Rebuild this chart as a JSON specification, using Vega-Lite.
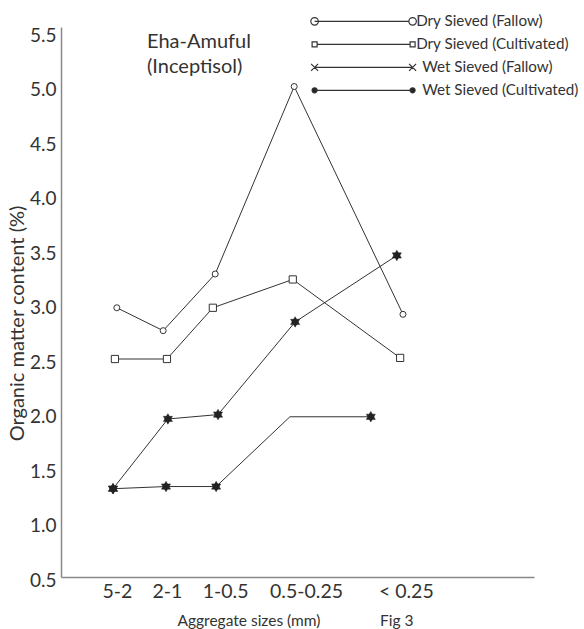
{
  "$schema": "https://vega.github.io/schema/vega-lite/v6.json",
  "width": 473,
  "height": 550,
  "autosize": {"type": "none"},
  "padding": {"left": 61, "top": 27, "right": 50, "bottom": 52},
  "background": "white",
  "config": {"view": {"stroke": null}, "font": "Lato"},
  "title": {
    "text": ["Eha-Amuful", "(Inceptisol)"],
    "orient": "top",
    "anchor": "start",
    "frame": "group",
    "dx": 86,
    "dy": 63,
    "offset": 0,
    "baseline": "top",
    "font": "Lato",
    "fontSize": 20,
    "fontWeight": "normal",
    "color": "#333",
    "lineHeight": 25
  },
  "data": {
    "values": [
      {"series": "Dry Sieved (Fallow)", "aggregate": "5-2", "x_pos": 1.18, "om": 2.97, "measured": true},
      {"series": "Dry Sieved (Fallow)", "aggregate": "2-1", "x_pos": 2.16, "om": 2.76, "measured": true},
      {"series": "Dry Sieved (Fallow)", "aggregate": "1-0.5", "x_pos": 3.26, "om": 3.28, "measured": true},
      {"series": "Dry Sieved (Fallow)", "aggregate": "0.5-0.25", "x_pos": 4.93, "om": 5.0, "measured": true},
      {"series": "Dry Sieved (Fallow)", "aggregate": "< 0.25", "x_pos": 7.23, "om": 2.91, "measured": true},
      {"series": "Dry Sieved (Cultivated)", "aggregate": "5-2", "x_pos": 1.14, "om": 2.5, "measured": true},
      {"series": "Dry Sieved (Cultivated)", "aggregate": "2-1", "x_pos": 2.24, "om": 2.5, "measured": true},
      {"series": "Dry Sieved (Cultivated)", "aggregate": "1-0.5", "x_pos": 3.21, "om": 2.97, "measured": true},
      {"series": "Dry Sieved (Cultivated)", "aggregate": "0.5-0.25", "x_pos": 4.9, "om": 3.23, "measured": true},
      {"series": "Dry Sieved (Cultivated)", "aggregate": "< 0.25", "x_pos": 7.17, "om": 2.51, "measured": true},
      {"series": "Wet Sieved (Fallow)", "aggregate": "5-2", "x_pos": 1.1, "om": 1.31, "measured": true},
      {"series": "Wet Sieved (Fallow)", "aggregate": "2-1", "x_pos": 2.26, "om": 1.95, "measured": true},
      {"series": "Wet Sieved (Fallow)", "aggregate": "1-0.5", "x_pos": 3.32, "om": 1.99, "measured": true},
      {"series": "Wet Sieved (Fallow)", "aggregate": "0.5-0.25", "x_pos": 4.95, "om": 2.84, "measured": true},
      {"series": "Wet Sieved (Fallow)", "aggregate": "< 0.25", "x_pos": 7.1, "om": 3.45, "measured": true},
      {"series": "Wet Sieved (Cultivated)", "aggregate": "5-2", "x_pos": 1.1, "om": 1.31, "measured": true},
      {"series": "Wet Sieved (Cultivated)", "aggregate": "2-1", "x_pos": 2.22, "om": 1.33, "measured": true},
      {"series": "Wet Sieved (Cultivated)", "aggregate": "1-0.5", "x_pos": 3.28, "om": 1.33, "measured": true},
      {"series": "Wet Sieved (Cultivated)", "aggregate": "0.5-0.25", "x_pos": 4.84, "om": 1.97, "measured": false},
      {"series": "Wet Sieved (Cultivated)", "aggregate": "< 0.25", "x_pos": 6.55, "om": 1.97, "measured": true}
    ]
  },
  "encoding": {
    "x": {
      "field": "x_pos",
      "type": "quantitative",
      "scale": {"domain": [0, 10], "nice": false, "zero": false},
      "axis": {
        "values": [1.18, 2.24, 3.47, 5.18, 7.29],
        "labelExpr": "datum.value < 1.5 ? '5-2' : datum.value < 3 ? '2-1' : datum.value < 4 ? '1-0.5' : datum.value < 6 ? '0.5-0.25' : '< 0.25'",
        "domainColor": "#888",
        "domainWidth": 1.5,
        "ticks": false,
        "tickSize": 0,
        "grid": false,
        "labelFont": "Lato",
        "labelFontSize": 19.5,
        "labelColor": "#333",
        "labelPadding": 5,
        "labelFlush": false,
        "labelOverlap": false,
        "title": "Aggregate sizes (mm)\u00a0\u00a0\u00a0\u00a0\u00a0\u00a0\u00a0\u00a0\u00a0\u00a0\u00a0\u00a0\u00a0\u00a0\u00a0Fig 3",
        "titleFont": "Lato",
        "titleFontSize": 15.5,
        "titleFontWeight": "normal",
        "titleColor": "#333",
        "titleAnchor": "start",
        "titleX": 116,
        "titleY": 48,
        "titleBaseline": "alphabetic"
      }
    },
    "y": {
      "field": "om",
      "type": "quantitative",
      "scale": {"domain": [0.5, 5.546], "nice": false, "zero": false},
      "axis": {
        "values": [0.5, 1, 1.5, 2, 2.5, 3, 3.5, 4, 4.5, 5, 5.5],
        "format": ".1f",
        "domainColor": "#888",
        "domainWidth": 1.5,
        "ticks": false,
        "tickSize": 0,
        "grid": false,
        "labelFont": "Lato",
        "labelFontSize": 19,
        "labelColor": "#333",
        "labelPadding": 5,
        "labelOffset": 3,
        "labelFlush": false,
        "labelOverlap": false,
        "title": "Organic matter content (%)",
        "titleFont": "Lato",
        "titleFontSize": 20,
        "titleFontWeight": "normal",
        "titleColor": "#333",
        "titleAngle": -90,
        "titleX": -43.5,
        "titleY": 296,
        "titleBaseline": "middle",
        "titleAlign": "center"
      }
    }
  },
  "layer": [
    {
      "mark": {"type": "line", "strokeWidth": 1},
      "encoding": {
        "color": {
          "field": "series",
          "type": "nominal",
          "scale": {
            "domain": ["Dry Sieved (Fallow)", "Dry Sieved (Cultivated)", "Wet Sieved (Fallow)", "Wet Sieved (Cultivated)"],
            "range": ["#333", "#333", "#333", "#333"]
          },
          "legend": {
            "orient": "none",
            "legendX": 344,
            "legendY": -13.3,
            "title": null,
            "padding": 0,
            "symbolSize": 100,
            "rowPadding": 7,
            "labelOffset": -4,
            "labelFont": "Lato",
            "labelFontSize": 15.2,
            "labelColor": "#333",
            "labelLimit": 300,
            "symbolStrokeWidth": 1.2,
            "encode": {
              "symbols": {
                "update": {
                  "shape": {"signal": "datum.value === 'Dry Sieved (Fallow)' ? 'M-19.6,0H-0.75M0.75,0A0.75,0.75,0,1,1,-0.75,0A0.75,0.75,0,1,1,0.75,0M-18.85,0A0.75,0.75,0,1,1,-20.35,0A0.75,0.75,0,1,1,-18.85,0' : datum.value === 'Dry Sieved (Cultivated)' ? 'M-19.1,0H-0.5M-20.1,-0.5H-19.1V0.5H-20.1ZM-0.5,-0.5H0.5V0.5H-0.5Z' : datum.value === 'Wet Sieved (Fallow)' ? 'M-19.6,0H0M-20.3,-0.7L-18.9,0.7M-20.3,0.7L-18.9,-0.7M-0.7,-0.7L0.7,0.7M-0.7,0.7L0.7,-0.7' : 'M-19.6,0H0M0.5,0A0.5,0.5,0,1,1,-0.5,0A0.5,0.5,0,1,1,0.5,0ZM-19.1,0A0.5,0.5,0,1,1,-20.1,0A0.5,0.5,0,1,1,-19.1,0Z'"},
                  "fill": {"signal": "datum.value === 'Wet Sieved (Cultivated)' ? '#222' : 'transparent'"},
                  "stroke": {"signal": "datum.value === 'Wet Sieved (Cultivated)' ? '#222' : '#666'"},
                  "strokeWidth": {"value": 1.2},
                  "opacity": {"value": 1}
                }
              },
              "labels": {
                "update": {
                  "dx": {"signal": "datum.value === 'Wet Sieved (Fallow)' || datum.value === 'Wet Sieved (Cultivated)' ? 6 : 0"}
                }
              }
            }
          }
        }
      }
    },
    {
      "transform": [{"filter": "datum.series === 'Dry Sieved (Fallow)'"}],
      "mark": {"type": "point", "shape": "circle", "size": 36, "filled": true, "fill": "white", "stroke": "#333", "strokeWidth": 1, "opacity": 1}
    },
    {
      "transform": [{"filter": "datum.series === 'Dry Sieved (Cultivated)'"}],
      "mark": {"type": "point", "shape": "square", "size": 52, "filled": true, "fill": "white", "stroke": "#333", "strokeWidth": 1, "opacity": 1}
    },
    {
      "transform": [{"filter": "(datum.series === 'Wet Sieved (Fallow)' || datum.series === 'Wet Sieved (Cultivated)') && datum.measured"}],
      "mark": {"type": "point", "shape": "M0,-1L0.866,0.5L-0.866,0.5ZM0,1L-0.866,-0.5L0.866,-0.5Z", "size": 110, "filled": true, "fill": "#222", "stroke": "#222", "strokeWidth": 0.5, "opacity": 1}
    }
  ]
}
